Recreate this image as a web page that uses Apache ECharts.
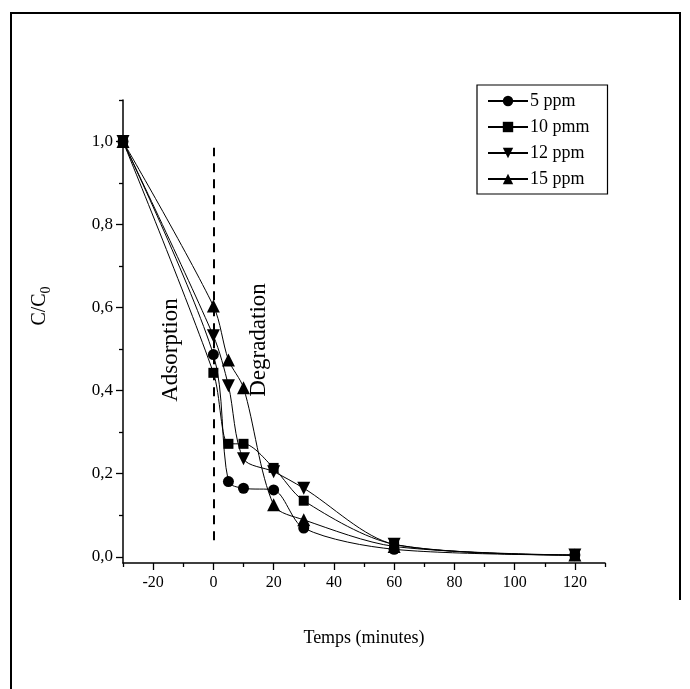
<!DOCTYPE html>
<html>
<head>
<meta charset="utf-8">
<script src="https://cdn.jsdelivr.net/npm/echarts@6/dist/echarts.min.js"></script>
<style>
html,body{margin:0;padding:0;background:#fff;}
#c{width:690px;height:689px;}
</style>
</head>
<body>
<div id="c"></div>
<script>
var times = [-30, 0, 5, 10, 20, 30, 60, 120];
var ppm5  = [1.0, 0.487, 0.181, 0.165, 0.161, 0.069, 0.018, 0.004];
var ppm10 = [1.0, 0.443, 0.272, 0.272, 0.214, 0.135, 0.030, 0.004];
var ppm12 = [1.0, 0.532, 0.412, 0.236, 0.205, 0.165, 0.030, 0.004];
var ppm15 = [1.0, 0.604, 0.474, 0.407, 0.125, 0.089, 0.025, 0.004];
var seriesNames = ['5 ppm', '10 pmm', '12 ppm', '15 ppm'];
var xMajor = [-20, 0, 20, 40, 60, 80, 100, 120];
var xMinor = [-30, -10, 10, 30, 50, 70, 90, 110, 130];
var yMajor = [0, 0.2, 0.4, 0.6, 0.8, 1.0];
var yMinor = [0.1, 0.3, 0.5, 0.7, 0.9, 1.1];

var FONT = 'Liberation Serif';
var symbols = ['circle', 'rect', 'path://M0,0 L10,0 L5,9 Z', 'path://M5,0 L10,9 L0,9 Z'];
var sizes = [11, 10, 13, 13];
var allData = [ppm5, ppm10, ppm12, ppm15];

function pairs(arr){ return times.map(function(t,i){ return [t, arr[i]]; }); }

var series = allData.map(function(arr, i){
  var s = {
    name: seriesNames[i],
    type: 'line',
    data: pairs(arr),
    smooth: 0.3,
    symbol: symbols[i],
    symbolSize: sizes[i],
    showAllSymbol: true,
    lineStyle: {color: '#000', width: 1},
    itemStyle: {color: '#000'},
    z: 3
  };
  if (i === 0) {
    s.markLine = {
      silent: true,
      symbol: ['none','none'],
      label: {show: false},
      lineStyle: {color: '#000', type: [9, 7], width: 2},
      data: [[{coord: [0, 0.04]}, {coord: [0, 0.985]}]]
    };
  }
  return s;
});

var chart = echarts.init(document.getElementById('c'), null, {renderer: 'canvas'});
var lineStyleAxis = {color: '#000', width: 1.5};
chart.setOption({
  backgroundColor: '#fff',
  animation: false,
  grid: {left: 123, right: 85, top: 100, bottom: 126, containLabel: false},
  legend: {
    orient: 'vertical',
    left: 477, top: 85,
    padding: [7, 18, 6, 10],
    itemGap: 8,
    itemWidth: 40, itemHeight: 13,
    borderColor: '#000', borderWidth: 1.2,
    backgroundColor: '#fff',
    textStyle: {fontFamily: FONT, fontSize: 18, color: '#000', padding: [0,0,0,-3]},
    data: seriesNames
  },
  xAxis: [
    {
      type: 'value', min: -30, max: 130,
      axisLine: {show: true, onZero: false, lineStyle: lineStyleAxis},
      splitLine: {show: false},
      name: 'Temps (minutes)', nameLocation: 'middle', nameGap: 66,
      nameTextStyle: {fontFamily: FONT, fontSize: 18, color: '#000'},
      axisTick: {show: true, length: 7, lineStyle: {color: '#000', width: 1.3}, customValues: xMajor},
      axisLabel: {fontFamily: FONT, fontSize: 16, color: '#000', margin: 12, customValues: xMajor}
    },
    {
      type: 'value', min: -30, max: 130, position: 'bottom',
      axisLine: {show: false, onZero: false},
      splitLine: {show: false},
      axisTick: {show: true, length: 4, lineStyle: {color: '#000', width: 1.3}, customValues: xMinor},
      axisLabel: {show: false}
    }
  ],
  yAxis: [
    {
      type: 'value', min: -0.015, max: 1.1,
      axisLine: {show: true, onZero: false, lineStyle: lineStyleAxis},
      splitLine: {show: false},
      axisTick: {show: true, length: 7, lineStyle: {color: '#000', width: 1.3}, customValues: yMajor},
      axisLabel: {fontFamily: FONT, fontSize: 17, color: '#000', margin: 10, customValues: yMajor,
        formatter: function(v){ return v.toFixed(1).replace('.', ','); }}
    },
    {
      type: 'value', min: -0.015, max: 1.1, position: 'left',
      axisLine: {show: false, onZero: false},
      splitLine: {show: false},
      axisTick: {show: true, length: 4, lineStyle: {color: '#000', width: 1.3}, customValues: yMinor},
      axisLabel: {show: false}
    }
  ],
  series: series,
  graphic: [
    {type: 'line', shape: {x1: 11, y1: 13, x2: 11, y2: 689}, style: {stroke: '#000', lineWidth: 2}},
    {type: 'line', shape: {x1: 10, y1: 13, x2: 681, y2: 13}, style: {stroke: '#000', lineWidth: 2}},
    {type: 'line', shape: {x1: 680, y1: 13, x2: 680, y2: 600}, style: {stroke: '#000', lineWidth: 2}},
    {type: 'text', x: 40, y: 306, rotation: Math.PI/2,
      style: {text: '{a|C/C}{b|0}', align: 'center', verticalAlign: 'middle',
        rich: {
          a: {fontFamily: FONT, fontSize: 20, fill: '#000'},
          b: {fontFamily: FONT, fontSize: 14, fill: '#000', padding: [12,0,0,0]}
        }}},
    {type: 'text', x: 171, y: 350, rotation: Math.PI/2,
      style: {text: 'Adsorption', fontFamily: FONT, fontSize: 23, fill: '#000', align: 'center', verticalAlign: 'middle'}},
    {type: 'text', x: 259, y: 340, rotation: Math.PI/2,
      style: {text: 'Degradation', fontFamily: FONT, fontSize: 23, fill: '#000', align: 'center', verticalAlign: 'middle'}}
  ]
});
</script>
</body>
</html>
